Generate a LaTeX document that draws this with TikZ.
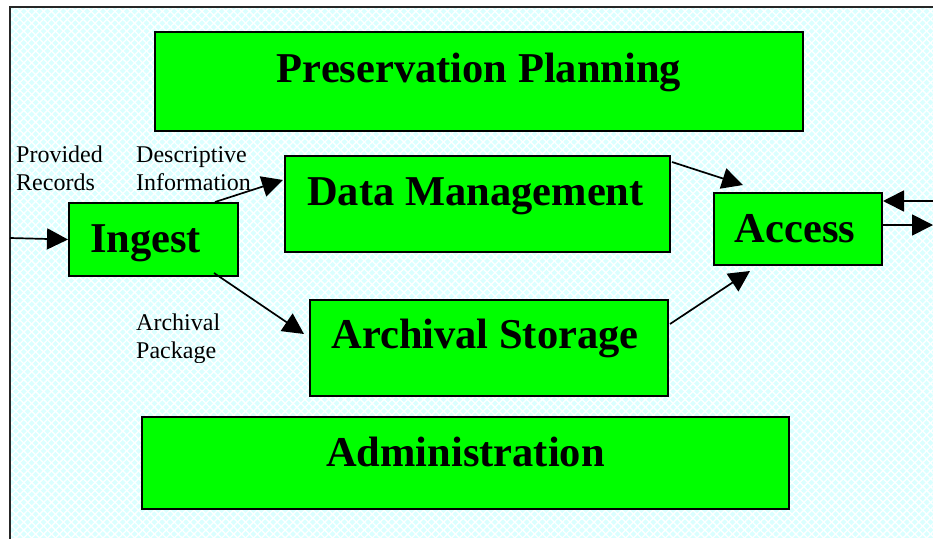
\documentclass[tikz,border=0pt]{standalone}
\usepackage{fontspec}
\setmainfont{Liberation Serif}
\usetikzlibrary{arrows.meta,calc,patterns.meta}

\definecolor{boxgreen}{RGB}{0,255,0}
\definecolor{bgcyan}{RGB}{218,255,255}

\tikzstyle{box} = [draw=black,line width=2pt,fill=boxgreen,inner sep=0,anchor=north west]
\tikzstyle{big} = [font=\fontsize{42.5}{48}\selectfont\bfseries,anchor=base,inner sep=0]
\tikzstyle{small} = [font=\fontsize{24}{28}\selectfont,align=left,anchor=base west,inner sep=0]

\begin{document}
\begin{tikzpicture}[
    x=1pt,y=-1pt,
    flow/.style={-{Triangle[length=21pt,width=21pt]},line width=1.7pt}
]
   \useasboundingbox (0,0) rectangle (933,538);

   % background and frame
   \fill[bgcyan] (10,7) rectangle (933,538);
   \fill[pattern={Lines[angle=45,distance=5.6pt,line width=1.3pt]},pattern color=white]
        (10,7) rectangle (933,538);
   \fill[pattern={Lines[angle=-45,distance=5.6pt,line width=1.3pt]},pattern color=white]
        (10,7) rectangle (933,538);
   \draw[line width=2pt,black!85] (10,545) -- (10,7) -- (945,7);

   % the six functions
   \node[box,minimum width=648,minimum height=99] (pp)     at (154,31)  {};
   \node[box,minimum width=385,minimum height=96] (dm)     at (284,155) {};
   \node[box,minimum width=169,minimum height=73] (ingest) at (68,202)  {};
   \node[box,minimum width=358,minimum height=96] (as)     at (309,299) {};
   \node[box,minimum width=647,minimum height=92] (adm)    at (141,416) {};
   \node[box,minimum width=168,minimum height=72] (access) at (713,192) {};

   \node[big] (pp text)     at ($(pp.north)+(0,51)$)     {Preservation Planning};
   \node[big] (dm text)     at ($(dm.north)+(-2,50)$)    {Data Management};
   \node[big] (ingest text) at ($(ingest.north)+(-8,50)$) {Ingest};
   \node[big] (as text)     at ($(as.north)+(-4,49)$)    {Archival Storage};
   \node[big] (access text) at ($(access.north)+(-3,50)$) {Access};
   \node[big] (adm text)    at ($(adm.north)+(0,50)$)    {Administration};

   % labels (base = last line)
   \node[small] (provided) at (16,190)  {Provided\\Records};
   \node[small] (descr)    at (136,190) {Descriptive\\Information};
   \begin{scope}
     \clip (0,0) rectangle (933,362);
     \node[small] (package) at (136,358) {Archival\\Package};
   \end{scope}

   % flows
   \coordinate (src)     at (10,238);
   \coordinate (ext in)  at (933,201);
   \coordinate (ext out) at (933,225);

   \draw[flow] (src) -- (ingest.west);
   \draw[flow] ($(ingest.north east)+(-24,0)$) -- ($(dm.west)+(-1,-24)$);
   \draw[flow] ($(ingest.south east)+(-25,-4)$) -- ($(as.west)+(-5,-14)$);
   \draw[flow] ($(dm.north east)+(1,7)$) -- ($(access.north west)+(30,-7)$);
   \draw[flow] ($(as.east)+(1,-24)$) -- ($(access.south west)+(37,5)$);
   \draw[flow] (ext in) -- ($(access.north east)+(0,9)$);
   \draw[flow] ($(access.north east)+(0,33)$) -- (ext out);

\end{tikzpicture}
\end{document}
